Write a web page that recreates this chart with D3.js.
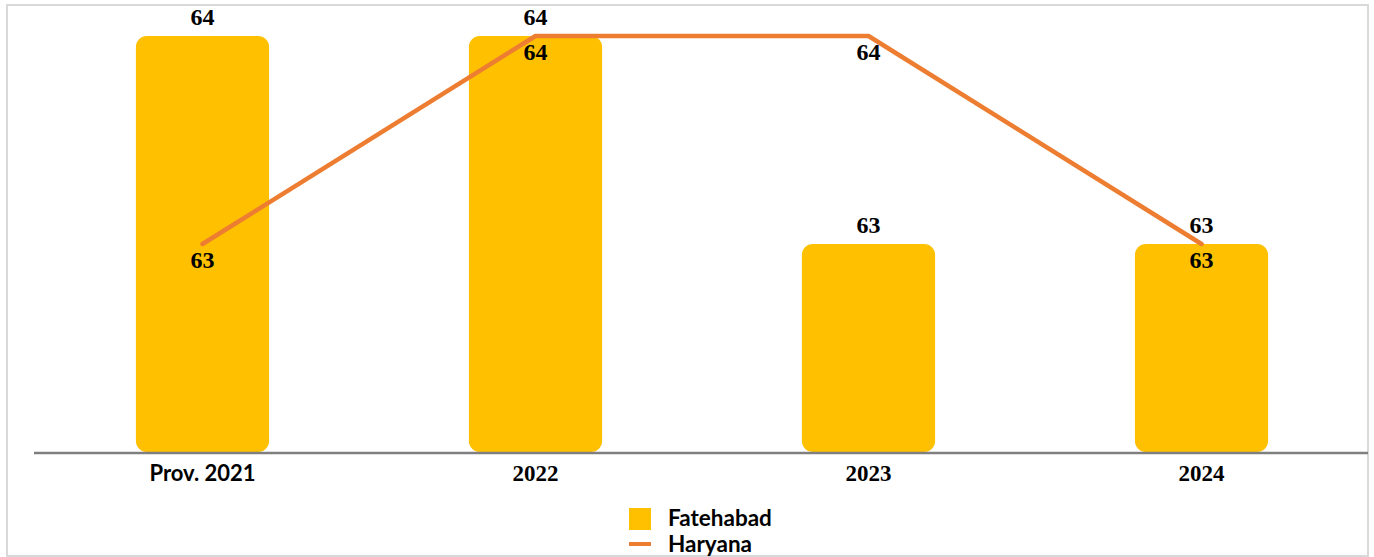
<!DOCTYPE html>
<html><head><meta charset="utf-8">
<script src="https://cdn.jsdelivr.net/npm/d3@7"></script>
<style>
html,body{margin:0;padding:0;background:#fff;}
svg{display:block;}
</style></head>
<body>
<script>
const categories = ["Prov. 2021", "2022", "2023", "2024"];
const fatehabad = [64, 64, 63, 63];
const haryana = [63, 64, 64, 63];
const seriesNames = ["Fatehabad", "Haryana"];

const W = 1374, H = 557;
const svg = d3.select("body").append("svg").attr("width", W).attr("height", H);

// outer border
svg.append("rect").attr("x", 7).attr("y", 5).attr("width", 1361).attr("height", 551)
  .attr("fill", "#fff").attr("stroke", "#d9d9d9").attr("stroke-width", 2);

const serif = "'Liberation Serif', 'DejaVu Serif', serif";
const sans = "'Lato', 'Open Sans', sans-serif";

const x = d3.scaleBand().domain(categories).range([36, 1368]).paddingInner(0.6).paddingOuter(0.3);
const y = d3.scaleLinear().domain([62, 64]).range([452, 36]);

// bars
svg.append("g").selectAll("rect").data(categories).join("rect")
  .attr("x", d => x(d))
  .attr("y", (d, i) => y(fatehabad[i]))
  .attr("width", x.bandwidth())
  .attr("height", (d, i) => y(62) - y(fatehabad[i]))
  .attr("rx", 11).attr("ry", 11)
  .attr("fill", "#FFC000");

// axis
const xAxis = d3.axisBottom(x).tickSize(0).tickPadding(0);
const gx = svg.append("g").attr("transform", `translate(0,${453})`).call(xAxis);
gx.select(".domain").attr("stroke", "#7f7f7f").attr("stroke-width", 2.5)
  .attr("d", "M34,0H1368");
gx.selectAll(".tick text")
  .attr("y", 20).attr("dy", "0.35em")
  .attr("font-family", d => /^\d+$/.test(d) ? serif : sans)
  .attr("font-weight", "bold").attr("font-size", d => /^\d+$/.test(d) ? 23 : 22).attr("fill", "#000");

// line
const cx = d => x(d) + x.bandwidth() / 2;
const line = d3.line().x((d, i) => cx(categories[i])).y(d => y(d));
svg.append("path").datum(haryana).attr("d", line)
  .attr("fill", "none").attr("stroke", "#ED7D31").attr("stroke-width", 4.5)
  .attr("stroke-linecap", "round").attr("stroke-linejoin", "round");

// bar labels
svg.append("g").selectAll("text").data(categories).join("text")
  .attr("x", d => cx(d)).attr("y", (d, i) => y(fatehabad[i]) - 19)
  .attr("dy", "0.35em").attr("text-anchor", "middle")
  .attr("font-family", serif).attr("font-weight", "bold").attr("font-size", 24)
  .text((d, i) => fatehabad[i]);

// line labels
svg.append("g").selectAll("text").data(categories).join("text")
  .attr("x", d => cx(d)).attr("y", (d, i) => y(haryana[i]) + 16)
  .attr("dy", "0.35em").attr("text-anchor", "middle")
  .attr("font-family", serif).attr("font-weight", "bold").attr("font-size", 24)
  .text((d, i) => haryana[i]);

// legend
const lg = svg.append("g");
lg.append("rect").attr("x", 629).attr("y", 508).attr("width", 22).attr("height", 22).attr("fill", "#FFC000");
lg.append("line").attr("x1", 629).attr("x2", 651).attr("y1", 544).attr("y2", 544)
  .attr("stroke", "#ED7D31").attr("stroke-width", 4);
lg.selectAll("text").data(seriesNames).join("text")
  .attr("x", 668).attr("y", (d, i) => 518 + i * 26).attr("dy", "0.35em")
  .attr("font-family", sans).attr("font-weight", "bold").attr("font-size", 22.5).attr("fill", "#000")
  .text(d => d);
</script>
</body></html>
